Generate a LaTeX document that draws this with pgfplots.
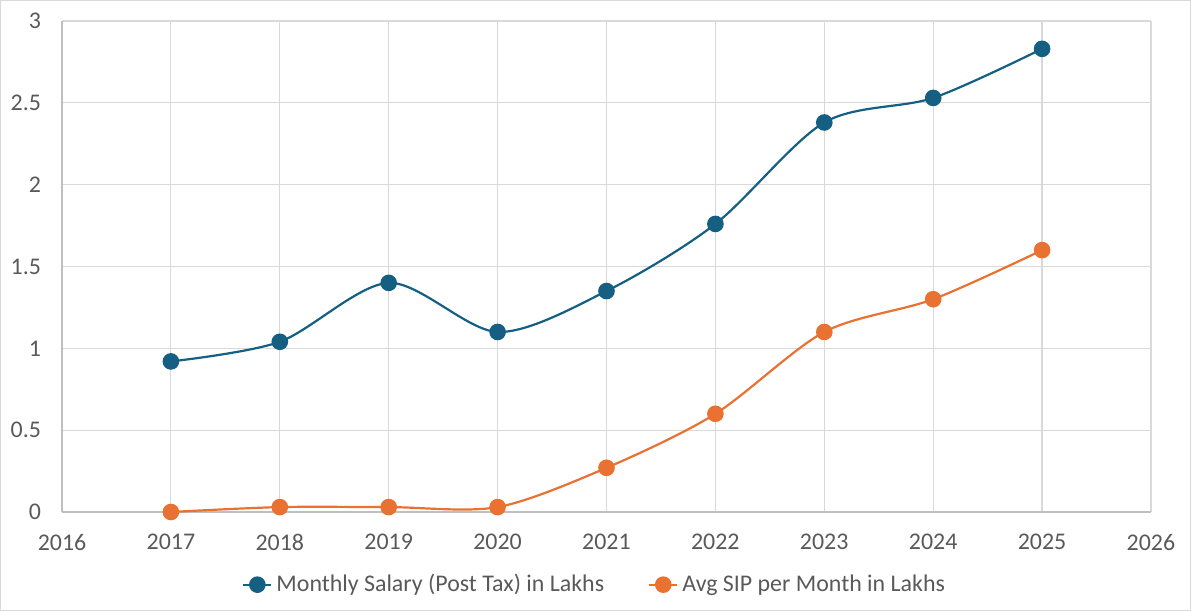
\documentclass[border=0pt]{standalone}
\usepackage{pgfplots}
\pgfplotsset{compat=1.18}
\usepackage{fontspec}
\setmainfont{Carlito}
\definecolor{salblue}{HTML}{156082}
\definecolor{siporange}{HTML}{E97132}
\definecolor{gridgray}{HTML}{D9D9D9}
\definecolor{axisgray}{HTML}{BFBFBF}
\definecolor{textgray}{HTML}{595959}
\begin{document}
\begin{tikzpicture}
\useasboundingbox (-31bp,-49.5bp) rectangle (564.5bp,256bp);
\draw[gridgray,line width=0.6bp] (-30.7bp,-49.2bp) rectangle (564.2bp,255.7bp);
\begin{axis}[
  scale only axis,
  width=544.5bp, height=245.5bp,
  at={(0,0)}, anchor=south west,
  xmin=2016, xmax=2026, ymin=0, ymax=3,
  xtick={2016,...,2026}, ytick={0,0.5,...,3},
  axis x line*=bottom, axis y line*=left,
  axis line style={draw=axisgray, line width=0.6bp},
  grid=major, major grid style={gridgray, line width=0.6bp},
  major tick length=0pt,
  /pgf/number format/assume math mode=true,
  /pgf/number format/1000 sep={},
  ticklabel style={font=\fontsize{12}{14}\selectfont, text=textgray},
  xticklabel style={yshift=-7.5bp},
  yticklabel style={xshift=-7bp},
  legend style={at={(axis description cs:0.49,-0.148)}, anchor=center,
    draw=none, fill=none, legend columns=2,
    font=\fontsize{12}{14}\selectfont, text=textgray,
    inner xsep=0pt,
    /tikz/every even column/.append style={column sep=20bp}},
  legend image code/.code={
    \draw[mark repeat=2,mark phase=2] plot coordinates {(0bp,0bp) (7bp,0bp) (14bp,0bp)};},
  legend cell align=left,
  clip=false,
]
\addplot[salblue, line width=1.1bp, smooth, mark=*, mark size=3.6bp,
  mark options={fill=salblue}] coordinates {
  (2017,0.92) (2018,1.04) (2019,1.40) (2020,1.10) (2021,1.35)
  (2022,1.76) (2023,2.38) (2024,2.53) (2025,2.83)};
\addlegendentry{Monthly Salary (Post Tax) in Lakhs}
\addplot[siporange, line width=1.1bp, smooth, mark=*, mark size=3.6bp,
  mark options={fill=siporange}] coordinates {
  (2017,0.00) (2018,0.03) (2019,0.03) (2020,0.03) (2021,0.27)
  (2022,0.60) (2023,1.10) (2024,1.30) (2025,1.60)};
\addlegendentry{Avg SIP per Month in Lakhs}
\end{axis}
\end{tikzpicture}
\end{document}
